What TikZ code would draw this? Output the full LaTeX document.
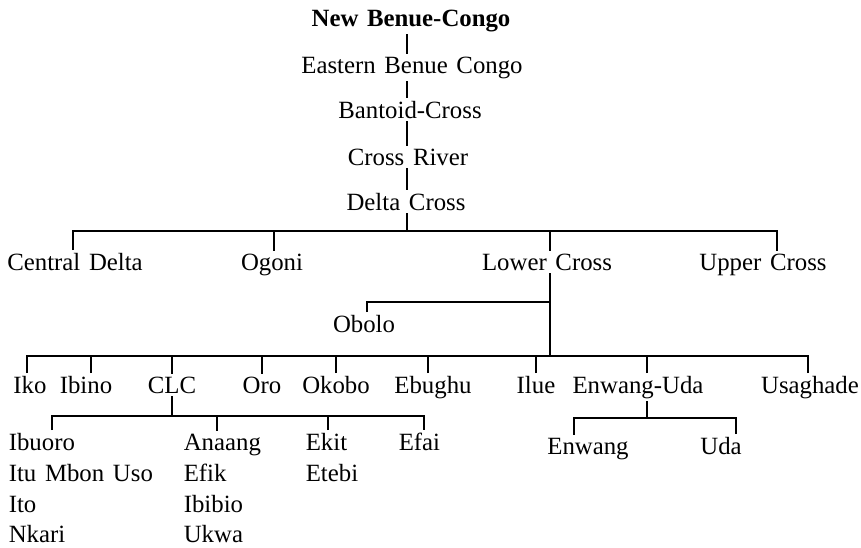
\documentclass[tikz,border=0pt]{standalone}
\usepackage{fontspec}
\setmainfont{Liberation Serif}
\usepackage{tikz}
\newcommand{\langfont}{\fontsize{12.4}{15}\selectfont\spaceskip 0.35em\relax}
\tikzstyle{lang}=[inner sep=1pt,anchor=base,font=\langfont]
\tikzstyle{langleft}=[lang,anchor=base west]
\tikzstyle{rootlang}=[lang,font=\langfont\bfseries]

\begin{document}
\begin{tikzpicture}[x=0.5pt,y=-0.5pt,line width=0.8pt]
    \useasboundingbox (0,0) rectangle (861,547);
    \coordinate (spine) at (407,0);
    % chain from the top
    \node (nbc) at (411,26)  [rootlang]{New Benue-Congo};
    \node (ebc) at (412,73)  [lang]{Eastern Benue Congo};
    \node (bc)  at (410,118) [lang]{Bantoid-Cross};
    \node (cr)  at (408,165) [lang]{Cross River};
    \node (dc)  at (406,210) [lang]{Delta Cross};
    \draw (nbc.south -| spine) -- (ebc.north -| spine);
    \draw (ebc.south -| spine) -- (bc.north -| spine);
    \draw (bc.south -| spine) -- (cr.north -| spine);
    \draw (cr.south -| spine) -- (dc.north -| spine);
    % Delta Cross branches
    \coordinate (j1) at (407,231);
    \node (cd) at (75,270)  [lang]{Central Delta};
    \node (og) at (272,270) [lang]{Ogoni};
    \node (lc) at (547,270) [lang]{Lower Cross};
    \node (uc) at (763,270) [lang]{Upper Cross};
    \draw (dc.south -| spine) -- (j1);
    \draw ([xshift=-1pt]cd.north) |- (j1);
    \draw ([xshift=1pt]og.north) |- (j1);
    \draw ([xshift=1.5pt]lc.north) |- (j1);
    \draw ([xshift=7pt]uc.north) |- (j1);
    % Lower Cross
    \coordinate (jo) at (550,302);
    \coordinate (j2) at (550,356);
    \node (ob) at (364,332) [lang]{Obolo};
    \draw ([xshift=1.5pt]lc.south) -- (j2);
    \draw ([xshift=1.5pt]ob.north) |- (jo);
    \node (iko) at (30,393)  [lang]{Iko};
    \node (ibi) at (86,393)  [lang]{Ibino};
    \node (clc) at (172,393) [lang]{CLC};
    \node (oro) at (262,393) [lang]{Oro};
    \node (okb) at (336,393) [lang]{Okobo};
    \node (ebu) at (433,393) [lang]{Ebughu};
    \node (ilu) at (536,393) [lang]{Ilue};
    \node (ewu) at (638,393) [lang]{Enwang-Uda};
    \node (usa) at (810,393) [lang]{Usaghade};
    \draw ([xshift=-1.5pt]iko.north) |- (j2);
    \draw ([xshift=2.5pt]ibi.north) |- (j2);
    \draw (clc.north) |- (j2);
    \draw (oro.north) |- (j2);
    \draw (okb.north) |- (j2);
    \draw ([xshift=-2.5pt]ebu.north) |- (j2);
    \draw (ilu.north) |- (j2);
    \draw ([xshift=4.5pt]ewu.north) |- (j2);
    \draw ([xshift=-1pt]usa.north) |- (j2);
    % CLC
    \coordinate (j3) at (172,416);
    \node (ibu) at (6,450)   [langleft]{Ibuoro};
    \node (itu) at (6,481)   [langleft]{Itu Mbon Uso};
    \node (ito) at (6,512)   [langleft]{Ito};
    \node (nka) at (6,542)   [langleft]{Nkari};
    \node (ana) at (181,450) [langleft]{Anaang};
    \node (efk) at (181,481) [langleft]{Efik};
    \node (ibb) at (181,512) [langleft]{Ibibio};
    \node (ukw) at (181,542) [langleft]{Ukwa};
    \node (ekt) at (303,450) [langleft]{Ekit};
    \node (etb) at (303,481) [langleft]{Etebi};
    \node (efa) at (396,450) [langleft]{Efai};
    \draw (clc.south) -- (j3);
    \draw ([xshift=23pt]ibu.north west) |- (j3);
    \draw ([xshift=18pt]ana.north west) |- (j3);
    \draw ([xshift=12.5pt]ekt.north west) |- (j3);
    \draw ([xshift=14pt]efa.north west) |- (j3);
    % Enwang-Uda
    \coordinate (j4) at (647,418);
    \node (enw) at (588,454) [lang]{Enwang};
    \node (uda) at (721,454) [lang]{Uda};
    \draw ([xshift=4.5pt]ewu.south) -- (j4);
    \draw ([xshift=-7pt]enw.north) |- (j4);
    \draw ([xshift=7.5pt]uda.north) |- (j4);
\end{tikzpicture}
\end{document}
